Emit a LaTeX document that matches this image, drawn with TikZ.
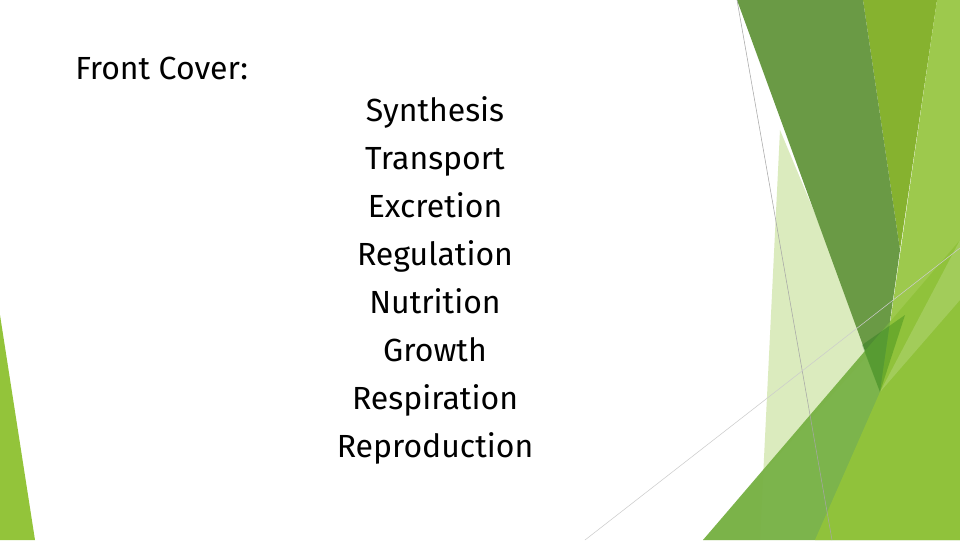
\documentclass[tikz,border=0pt]{standalone}
\usepackage{fontspec}
\setmainfont{Fira Sans}
\begin{document}
\begin{tikzpicture}[x=0.75pt,y=-0.75pt,
  txt/.style={font=\fontsize{24}{36}\selectfont, text=black, inner sep=0pt}]
\definecolor{dk}{HTML}{6A9A45}
\definecolor{ol}{HTML}{86B22F}
\definecolor{br}{HTML}{93C43A}
\definecolor{md}{HTML}{76B043}
\definecolor{pl}{HTML}{D3E6AE}
\useasboundingbox (0,0) rectangle (960,540);
\fill[white] (0,0) rectangle (960,540);
% left sliver
\fill[br] (0,315) -- (35,540) -- (0,540) -- cycle;
% right facets
\fill[pl, opacity=0.8] (780,130) -- (872,350) -- (703,540) -- (760,540) -- cycle;
\fill[ol] (863,0) -- (937,0) -- (900,250) -- cycle;
\fill[dk] (737,0) -- (863,0) -- (900,250) -- (880,392) -- cycle;
\fill[md, opacity=0.95] (703,540) -- (960,240) -- (960,540) -- cycle;
\fill[br, opacity=0.9] (937,0) -- (960,0) -- (960,540) -- (815,540) -- (880,392) -- cycle;
\fill[br!60!white, opacity=0.4] (880,392) -- (960,240) -- (960,300) -- cycle;
\fill[green!40!black, opacity=0.25] (862,345) -- (905,315) -- (880,392) -- cycle;
% thin lines
\coordinate (l1a) at (737,0); \coordinate (l1b) at (832,540);
\coordinate (l2a) at (585,540); \coordinate (l2b) at (960,248);
\draw[gray!70, line width=0.4pt] (l1a) -- (l1b);
\draw[gray!40, line width=0.4pt] (l2a) -- (l2b);
% text
\node[txt, anchor=west] (fc) at (75,68) {Front Cover:};
\node[txt, align=center, anchor=north] (list) at (435,96)
  {Synthesis\\Transport\\Excretion\\Regulation\\Nutrition\\Growth\\Respiration\\Reproduction};
\end{tikzpicture}
\end{document}
